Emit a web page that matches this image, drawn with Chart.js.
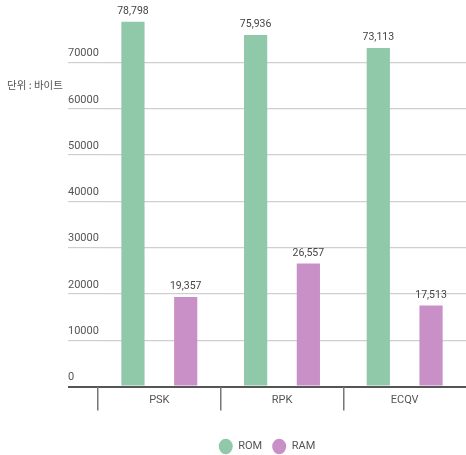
<!DOCTYPE html>
<html>
<head>
<meta charset="utf-8">
<script src="https://cdn.jsdelivr.net/npm/chart.js@4"></script>
<style>
  html, body { margin: 0; padding: 0; background: #fff; }
  #wrap { width: 466px; height: 455px; }
</style>
</head>
<body>
<div id="wrap"><canvas id="chart"></canvas></div>
<script>
const categories = ['PSK', 'RPK', 'ECQV'];
const romValues = [78798, 75936, 73113];
const ramValues = [19357, 26557, 17513];
const yTicks = [0, 10000, 20000, 30000, 40000, 50000, 60000, 70000];
const unitLabel = '단위 : 바이트';

Chart.defaults.font.family = 'Roboto';
Chart.defaults.color = '#555';

// value labels above each bar
const valueLabels = {
  id: 'valueLabels',
  afterDatasetsDraw(chart) {
    const ctx = chart.ctx;
    ctx.save();
    ctx.font = '10.5px Roboto';
    ctx.fillStyle = '#444';
    ctx.textAlign = 'center';
    ctx.textBaseline = 'bottom';
    chart.data.datasets.forEach((ds, i) => {
      chart.getDatasetMeta(i).data.forEach((bar, j) => {
        ctx.fillText(ds.data[j].toLocaleString('en-US'), bar.x, bar.y - 5);
      });
    });
    ctx.restore();
  }
};

const unitText = {
  id: 'unitText',
  afterDraw(chart) {
    const ctx = chart.ctx;
    ctx.save();
    ctx.font = '10.5px "Noto Sans CJK KR"';
    ctx.fillStyle = '#555';
    ctx.textBaseline = 'middle';
    ctx.fillText(unitLabel, 7, 85);
    ctx.restore();
  }
};

new Chart(document.getElementById('chart'), {
  type: 'bar',
  data: {
    labels: categories,
    datasets: [
      {
        label: 'ROM',
        data: romValues,
        backgroundColor: '#90c8aa',
        categoryPercentage: 0.86,
        barPercentage: 0.44
      },
      {
        label: 'RAM',
        data: ramValues,
        backgroundColor: '#c990c8',
        categoryPercentage: 0.86,
        barPercentage: 0.44
      }
    ]
  },
  options: {
    responsive: true,
    maintainAspectRatio: false,
    animation: false,
    layout: { padding: { left: 68, right: 0, top: 0, bottom: -7 } },
    scales: {
      y: {
        min: 0,
        max: 83500,
        afterBuildTicks: axis => { axis.ticks = yTicks.map(v => ({ value: v })); },
        afterFit: axis => { axis.width = 30; },
        border: { display: false },
        grid: {
          color: c => c.tick && c.tick.value === 0 ? '#555' : '#cfcfcf',
          lineWidth: c => c.tick && c.tick.value === 0 ? 2 : 1.2,
          tickLength: 30
        },
        ticks: {
          mirror: true,
          padding: -30,
          labelOffset: -9,
          callback: v => String(v),
          font: { size: 11 },
          color: '#555'
        }
      },
      x: {
        afterFit: axis => { axis.height = 44.5; },
        border: { display: false },
        grid: {
          offset: true,
          drawOnChartArea: false,
          tickLength: 24,
          color: c => c.type === 'tick' ? '#777' : 'transparent',
          lineWidth: 1.5
        },
        ticks: {
          padding: -17,
          font: { size: 11 },
          color: '#555'
        }
      }
    },
    plugins: {
      legend: {
        position: 'bottom',
        labels: {
          usePointStyle: true,
          pointStyle: 'circle',
          pointStyleWidth: 14,
          padding: 10,
          font: { size: 11 },
          color: '#555'
        }
      },
      tooltip: { enabled: false }
    }
  },
  plugins: [valueLabels, unitText]
});
</script>
</body>
</html>
